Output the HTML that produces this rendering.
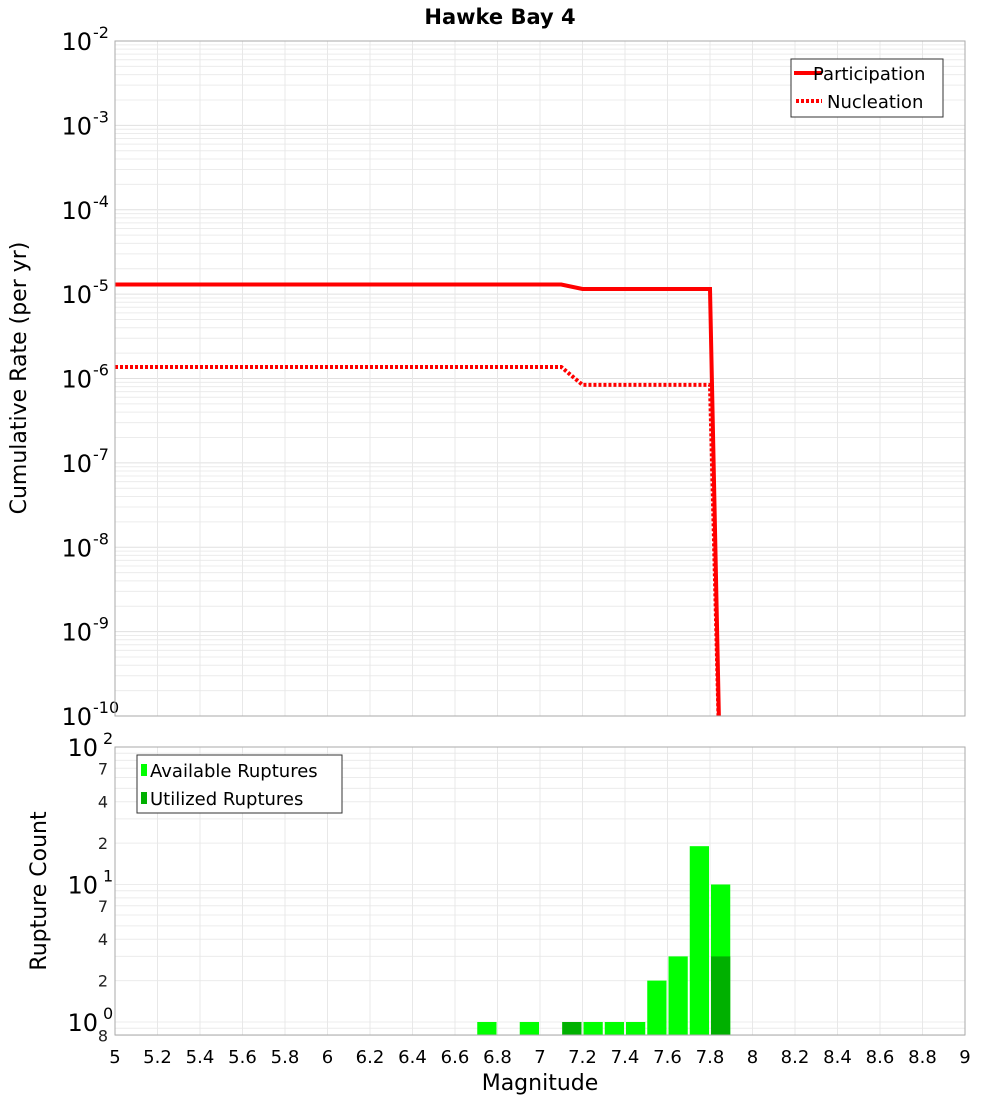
<!DOCTYPE html>
<html><head><meta charset="utf-8"><style>
body{margin:0;background:#fff}
svg{display:block;font-family:"DejaVu Sans","Liberation Sans",sans-serif}
</style></head><body>
<svg id="c" width="1000" height="1100" xmlns="http://www.w3.org/2000/svg">
<text x="500" y="24" text-anchor="middle" font-size="21" font-weight="bold">Hawke Bay 4</text>
<g id="grid"></g>
<g id="marks"></g>
<g id="axes"></g>
<text transform="translate(26,378) rotate(-90)" text-anchor="middle" font-size="22">Cumulative Rate (per yr)</text>
<text transform="translate(46,891) rotate(-90)" text-anchor="middle" font-size="22">Rupture Count</text>
<text x="540" y="1090" text-anchor="middle" font-size="22">Magnitude</text>
<g>
<rect x="791" y="59" width="152" height="58" fill="#fff" stroke="#333"/>
<line x1="794" y1="73" x2="822" y2="73" stroke="#f00" stroke-width="4"/>
<text x="813" y="80" font-size="18">Participation</text>
<line x1="796" y1="101" x2="822" y2="101" stroke="#f00" stroke-width="4" stroke-dasharray="3,2"/>
<text x="827" y="108" font-size="18">Nucleation</text>
</g>
<g>
<rect x="137" y="755" width="205" height="58" fill="#fff" stroke="#333"/>
<rect x="141" y="764" width="6" height="12" fill="#00ff00"/>
<text x="150" y="777" font-size="18">Available Ruptures</text>
<rect x="141" y="792" width="6" height="12" fill="#00b000"/>
<text x="150" y="805" font-size="18">Utilized Ruptures</text>
</g>
</svg>
<script>
const partMags=[5.0,7.1,7.2,7.8,7.85];
const partRates=[1.3e-5,1.3e-5,1.15e-5,1.15e-5,1e-11];
const nuclMags=[5.0,7.1,7.2,7.8,7.85];
const nuclRates=[1.37e-6,1.37e-6,8.4e-7,8.4e-7,1e-11];
const binMags=[6.75,6.95,7.15,7.25,7.35,7.45,7.55,7.65,7.75,7.85];
const availCounts=[1,1,1,1,1,1,2,3,19,10];
const usedCounts=[0,0,1,0,0,0,0,0,0,3];
const xTicks=["5","5.2","5.4","5.6","5.8","6","6.2","6.4","6.6","6.8","7","7.2","7.4","7.6","7.8","8","8.2","8.4","8.6","8.8","9"];

const NS="http://www.w3.org/2000/svg";
const L=115,R=965,T1=41,B1=716,T2=747,B2=1035;
const x=m=>L+(m-5)/4*(R-L);
const y1=v=>T1+(-2-Math.log10(v))*(B1-T1)/8;
const y2=v=>T2+(2-Math.log10(v))*137.5;
function mk(tag,attrs,parent){const e=document.createElementNS(NS,tag);for(const k in attrs)e.setAttribute(k,attrs[k]);parent.appendChild(e);return e;}
const grid=document.getElementById('grid'),marks=document.getElementById('marks'),axes=document.getElementById('axes');
mk('rect',{x:L,y:T1,width:R-L,height:B1-T1,fill:'#fff'},grid);
// top grid
for(let d=-10;d<-2;d++){for(let k=1;k<10;k++){const yy=y1(k*Math.pow(10,d));mk('line',{x1:L,x2:R,y1:yy,y2:yy,stroke:k==1?'#e0e0e0':'#ececec','stroke-width':1},grid);}}
// bottom grid
for(let d=-1;d<2;d++){for(let k=1;k<10;k++){const v=k*Math.pow(10,d);if(v<0.8)continue;const yy=y2(v);mk('line',{x1:L,x2:R,y1:yy,y2:yy,stroke:'#ececec','stroke-width':1},grid);}}
xTicks.forEach((t,i)=>{const xx=x(parseFloat(t));
mk('line',{x1:xx,x2:xx,y1:T1,y2:B1,stroke:'#e8e8e8'},grid);
mk('line',{x1:xx,x2:xx,y1:T2,y2:B2,stroke:'#e8e8e8'},grid);
const tx=mk('text',{x:xx,y:1063,'text-anchor':'middle','font-size':18},axes);


tx.textContent=t;});
// top y labels
for(let d=-10;d<=-2;d++){const yy=y1(Math.pow(10,d));
const t=mk('text',{x:d==-10?92:92,y:yy+9,'text-anchor':'end','font-size':24},axes);


t.textContent='10';
const s=mk('text',{x:93,y:yy-3,'font-size':16},axes);


s.textContent=String(d);}
// bottom y labels
[[100,'2'],[10,'1'],[1,'0']].forEach(([v,e])=>{const yy=y2(v);
const t=mk('text',{x:98,y:yy+9,'text-anchor':'end','font-size':24},axes);


t.textContent='10';
const s=mk('text',{x:103,y:yy-3,'font-size':16},axes);


s.textContent=e;});
[[70,'7'],[40,'4'],[20,'2'],[7,'7'],[4,'4'],[2,'2'],[0.8,'8']].forEach(([v,t0])=>{const yy=y2(v);
const t=mk('text',{x:108,y:yy+6,'text-anchor':'end','font-size':16,fill:'#222'},axes);


t.textContent=t0;});
// bars
binMags.forEach((m,i)=>{const x0=x(m-0.05)+1,x1=x(m+0.05)-1;
const a=mk('rect',{x:x0,y:y2(availCounts[i]),width:x1-x0,height:B2-y2(availCounts[i]),fill:'#00ff00'},marks);


if(usedCounts[i]>0){const u=mk('rect',{x:x0,y:y2(usedCounts[i]),width:x1-x0,height:B2-y2(usedCounts[i]),fill:'#00b000'},marks);

}});
// lines (clipped)
const cp=mk('clipPath',{id:'cp1'},marks);mk('rect',{x:L,y:T1,width:R-L,height:B1-T1},cp);
const pl=mk('polyline',{points:partMags.map((m,i)=>x(m)+','+y1(partRates[i])).join(' '),fill:'none',stroke:'#f00','stroke-width':4,'clip-path':'url(#cp1)'},marks);


const nl=mk('polyline',{points:nuclMags.map((m,i)=>x(m)+','+y1(nuclRates[i])).join(' '),fill:'none',stroke:'#f00','stroke-width':4,'stroke-dasharray':'3,2','clip-path':'url(#cp1)'},marks);


// frames
mk('rect',{x:L,y:T1,width:R-L,height:B1-T1,fill:'none',stroke:'#aaa'},axes);
mk('rect',{x:L,y:T2,width:R-L,height:B2-T2,fill:'none',stroke:'#aaa'},axes);
</script>
</body></html>
